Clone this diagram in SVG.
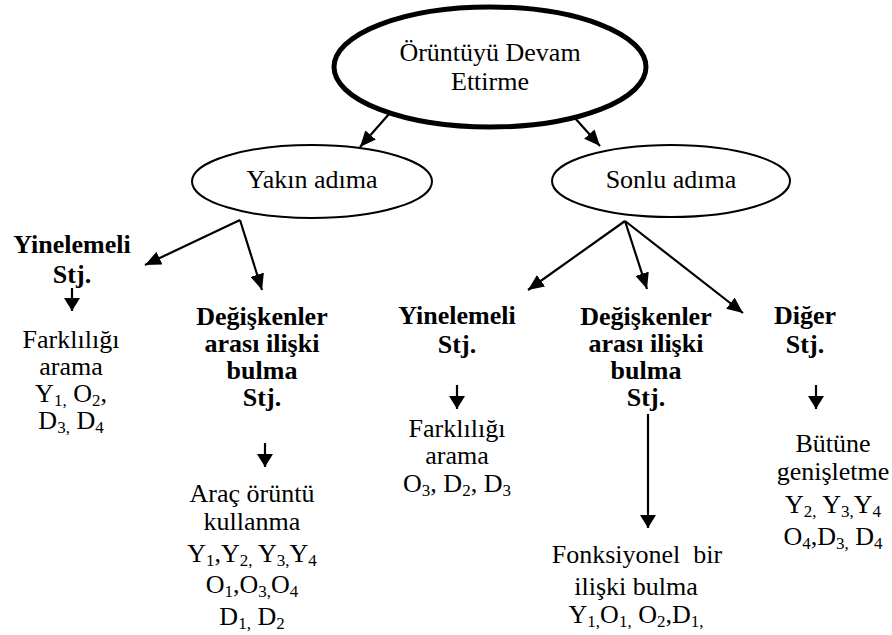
<svg xmlns="http://www.w3.org/2000/svg" width="892" height="635" viewBox="0 0 892 635">
  <style>
    text { font-family: "Liberation Serif", "Times New Roman", serif; font-size: 26px; fill: #000; text-anchor: middle; white-space: pre; }
    .b { font-weight: bold; }
    .sb { font-size: 17px; }
    .edge { stroke: #000; stroke-width: 2.2; fill: none; }
    .oval { fill: #fff; stroke: #000; stroke-width: 2; }
    .root { fill: #fff; stroke: #000; stroke-width: 5; }
  </style>
  <defs>
    <marker id="ah" markerUnits="userSpaceOnUse" markerWidth="16" markerHeight="14" refX="16" refY="7" orient="auto">
      <path d="M0,0 L16,7 L0,14 z" fill="#000"/>
    </marker>
    <marker id="ahs" markerUnits="userSpaceOnUse" markerWidth="13" markerHeight="16" refX="13" refY="8" orient="auto">
      <path d="M0,0 L13,8 L0,16 z" fill="#000"/>
    </marker>
  </defs>

  <!-- connectors -->
  <g id="connectors">
    <line class="edge" x1="389" y1="114" x2="360" y2="147" marker-end="url(#ah)"/>
    <line class="edge" x1="574" y1="117" x2="600" y2="146" marker-end="url(#ah)"/>
    <line class="edge" x1="240" y1="220" x2="145" y2="265" marker-end="url(#ah)"/>
    <line class="edge" x1="240" y1="220" x2="262" y2="290" marker-end="url(#ah)"/>
    <line class="edge" x1="625" y1="221" x2="528" y2="290" marker-end="url(#ah)"/>
    <line class="edge" x1="625" y1="221" x2="647" y2="289" marker-end="url(#ah)"/>
    <line class="edge" x1="625" y1="221" x2="743" y2="313" marker-end="url(#ah)"/>
    <line class="edge" x1="72" y1="288" x2="72" y2="311" marker-end="url(#ahs)"/>
    <line class="edge" x1="265" y1="443" x2="265" y2="467" marker-end="url(#ahs)"/>
    <line class="edge" x1="457" y1="385" x2="457" y2="409" marker-end="url(#ahs)"/>
    <line class="edge" x1="648" y1="414" x2="648" y2="528" marker-end="url(#ahs)"/>
    <line class="edge" x1="816" y1="385" x2="816" y2="409" marker-end="url(#ahs)"/>
  </g>

  <!-- root -->
  <g id="root">
    <ellipse class="root" cx="490" cy="67" rx="156" ry="60"/>
    <text x="490" y="61">Örüntüyü Devam</text>
    <text x="490" y="90">Ettirme</text>
  </g>

  <g id="yakin">
    <ellipse class="oval" cx="312" cy="181.5" rx="120" ry="36.5"/>
    <text x="312" y="188">Yakın adıma</text>
  </g>

  <g id="sonlu">
    <ellipse class="oval" cx="671" cy="181" rx="119" ry="36"/>
    <text x="671" y="188">Sonlu adıma</text>
  </g>

  <g id="yin-left">
    <text class="b" x="72" y="253">Yinelemeli</text>
    <text class="b" x="72" y="283">Stj.</text>
  </g>

  <g id="fark-left">
    <text x="71" y="348">Farklılığı</text>
    <text x="71" y="375">arama</text>
    <text x="71" y="402">Y<tspan class="sb" dy="4">1,</tspan><tspan dy="-4"> O</tspan><tspan class="sb" dy="4">2</tspan><tspan dy="-4">,</tspan></text>
    <text x="71" y="429">D<tspan class="sb" dy="4">3,</tspan><tspan dy="-4"> D</tspan><tspan class="sb" dy="4">4</tspan></text>
  </g>

  <g id="deg-left">
    <text class="b" x="262" y="325">Değişkenler</text>
    <text class="b" x="262" y="352">arası ilişki</text>
    <text class="b" x="262" y="379">bulma</text>
    <text class="b" x="262" y="406">Stj.</text>
  </g>

  <g id="arac">
    <text x="252" y="502">Araç örüntü</text>
    <text x="252" y="530">kullanma</text>
    <text x="252" y="562">Y<tspan class="sb" dy="4">1</tspan><tspan dy="-4">,Y</tspan><tspan class="sb" dy="4">2,</tspan><tspan dy="-4"> Y</tspan><tspan class="sb" dy="4">3,</tspan><tspan dy="-4">Y</tspan><tspan class="sb" dy="4">4</tspan></text>
    <text x="252" y="593">O<tspan class="sb" dy="4">1</tspan><tspan dy="-4">,O</tspan><tspan class="sb" dy="4">3,</tspan><tspan dy="-4">O</tspan><tspan class="sb" dy="4">4</tspan></text>
    <text x="252" y="625">D<tspan class="sb" dy="4">1,</tspan><tspan dy="-4"> D</tspan><tspan class="sb" dy="4">2</tspan></text>
  </g>

  <g id="yin-mid">
    <text class="b" x="457" y="324">Yinelemeli</text>
    <text class="b" x="457" y="353">Stj.</text>
  </g>

  <g id="fark-mid">
    <text x="457" y="437">Farklılığı</text>
    <text x="457" y="464">arama</text>
    <text x="457" y="492">O<tspan class="sb" dy="4">3</tspan><tspan dy="-4">, D</tspan><tspan class="sb" dy="4">2</tspan><tspan dy="-4">, D</tspan><tspan class="sb" dy="4">3</tspan></text>
  </g>

  <g id="deg-mid">
    <text class="b" x="646" y="325">Değişkenler</text>
    <text class="b" x="646" y="352">arası ilişki</text>
    <text class="b" x="646" y="379">bulma</text>
    <text class="b" x="646" y="406">Stj.</text>
  </g>

  <g id="fonk">
    <text x="637" y="563">Fonksiyonel  bir</text>
    <text x="636" y="595">ilişki bulma</text>
    <text x="636" y="623">Y<tspan class="sb" dy="4">1,</tspan><tspan dy="-4">O</tspan><tspan class="sb" dy="4">1,</tspan><tspan dy="-4"> O</tspan><tspan class="sb" dy="4">2</tspan><tspan dy="-4">,D</tspan><tspan class="sb" dy="4">1,</tspan></text>
  </g>

  <g id="diger">
    <text class="b" x="805" y="324">Diğer</text>
    <text class="b" x="805" y="353">Stj.</text>
  </g>

  <g id="butune">
    <text x="833" y="452">Bütüne</text>
    <text x="833" y="480">genişletme</text>
    <text x="833" y="513">Y<tspan class="sb" dy="4">2,</tspan><tspan dy="-4"> Y</tspan><tspan class="sb" dy="4">3,</tspan><tspan dy="-4">Y</tspan><tspan class="sb" dy="4">4</tspan></text>
    <text x="833" y="545">O<tspan class="sb" dy="4">4</tspan><tspan dy="-4">,D</tspan><tspan class="sb" dy="4">3,</tspan><tspan dy="-4"> D</tspan><tspan class="sb" dy="4">4</tspan></text>
  </g>
</svg>
